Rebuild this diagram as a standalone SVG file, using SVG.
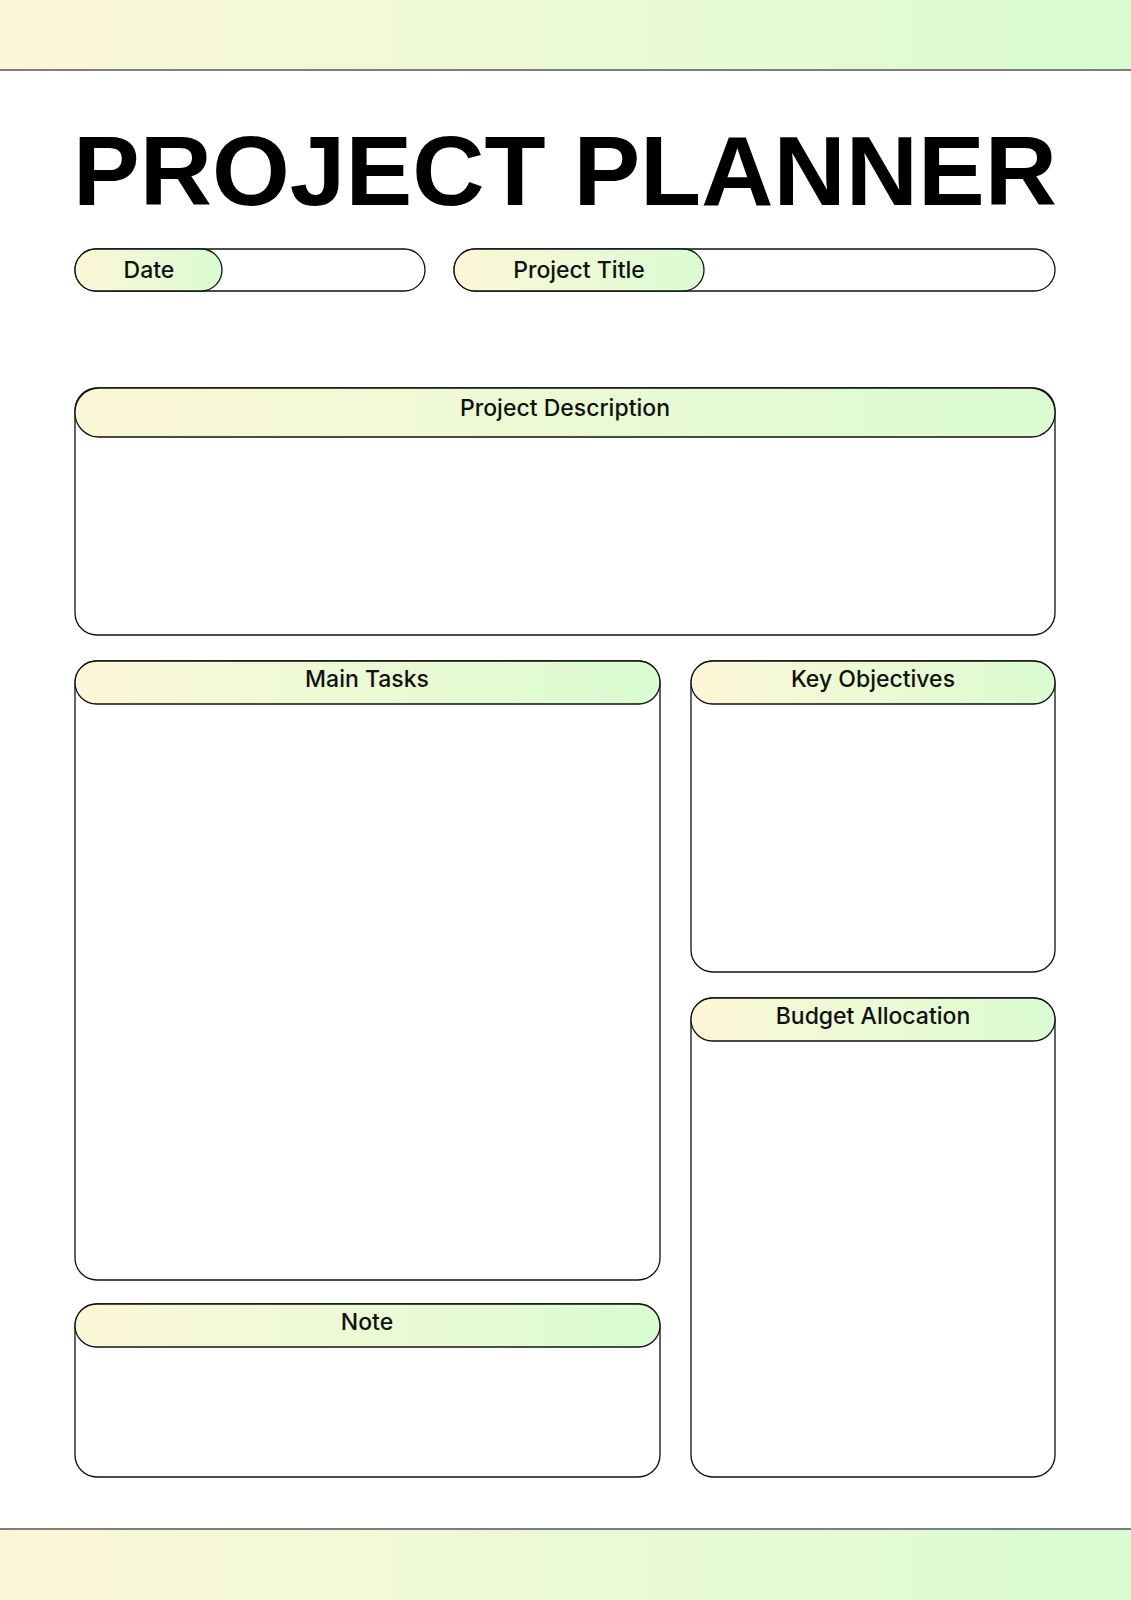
<svg xmlns="http://www.w3.org/2000/svg" width="1131" height="1600" viewBox="0 0 1131 1600">
<style>
.box{fill:#fff;stroke:#111;stroke-width:1.3}
.hd{fill:url(#g);stroke:#111;stroke-width:1.3}
.lb{font-family:Inter,"Liberation Sans",sans-serif;font-size:23px;font-weight:500;fill:#111;text-anchor:middle}
</style>
<defs>
<linearGradient id="g" x1="0" x2="1" y1="0" y2="0"><stop offset="0" stop-color="#fcf7d6"/><stop offset="1" stop-color="#dafcd2"/></linearGradient>
</defs>
<rect width="1131" height="1600" fill="#fff"/>
<rect x="0" y="0" width="1131" height="70" fill="url(#g)"/>
<line x1="0" y1="70" x2="1131" y2="70" stroke="#555" stroke-width="1.5"/>
<rect x="0" y="1529" width="1131" height="71" fill="url(#g)"/>
<line x1="0" y1="1529" x2="1131" y2="1529" stroke="#555" stroke-width="1.5"/>
<text x="565" y="205" font-family="Liberation Sans,Arial,sans-serif" font-weight="bold" font-size="98" text-anchor="middle" textLength="984" lengthAdjust="spacingAndGlyphs" fill="#000">PROJECT PLANNER</text>
<g id="date">
<rect class="box" x="75" y="249" width="350" height="42" rx="21"/>
<rect class="hd" x="75" y="249" width="147" height="42" rx="21"/>
<text class="lb" x="149" y="278">Date</text>
</g>
<g id="title">
<rect class="box" x="454" y="249" width="601" height="42" rx="21"/>
<rect class="hd" x="454" y="249" width="250" height="42" rx="21"/>
<text class="lb" x="579" y="278">Project Title</text>
</g>
<g id="description">
<rect class="box" x="75" y="388" width="980" height="247" rx="22"/>
<rect class="hd" x="75" y="388" width="980" height="49" rx="24"/>
<text class="lb" x="565" y="416">Project Description</text>
</g>
<g id="tasks">
<rect class="box" x="75" y="661" width="585" height="619" rx="22"/>
<rect class="hd" x="75" y="661" width="585" height="43" rx="21.5"/>
<text class="lb" x="367" y="687">Main Tasks</text>
</g>
<g id="objectives">
<rect class="box" x="691" y="661" width="364" height="311" rx="22"/>
<rect class="hd" x="691" y="661" width="364" height="43" rx="21.5"/>
<text class="lb" x="873" y="687">Key Objectives</text>
</g>
<g id="budget">
<rect class="box" x="691" y="998" width="364" height="479" rx="22"/>
<rect class="hd" x="691" y="998" width="364" height="43" rx="21.5"/>
<text class="lb" x="873" y="1024">Budget Allocation</text>
</g>
<g id="note">
<rect class="box" x="75" y="1304" width="585" height="173" rx="22"/>
<rect class="hd" x="75" y="1304" width="585" height="43" rx="21.5"/>
<text class="lb" x="367" y="1330">Note</text>
</g>
<g id="connectors"/>
</svg>
